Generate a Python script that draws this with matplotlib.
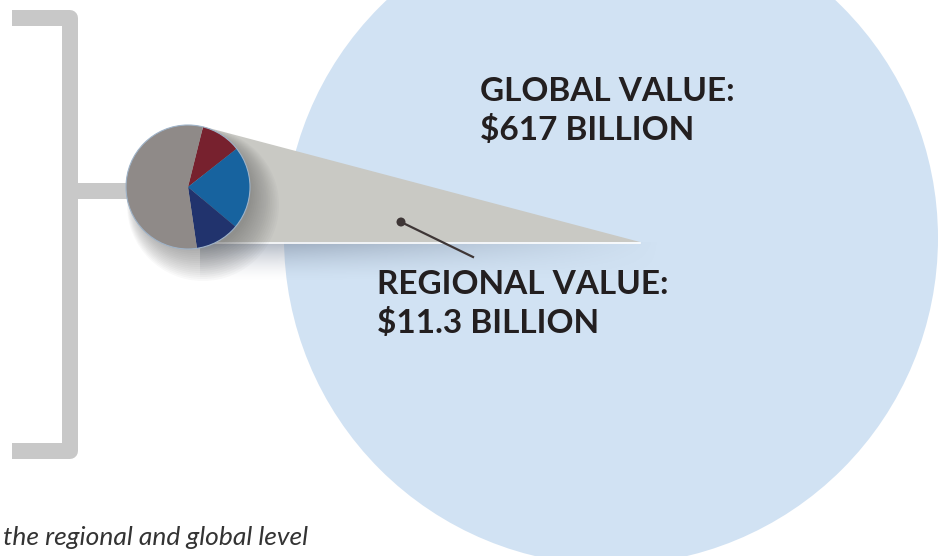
import numpy as np
import matplotlib
matplotlib.use("Agg")
import matplotlib.pyplot as plt
from matplotlib.patches import Circle, Polygon

# data
slice_names = ["Sector A", "Sector B", "Sector C", "Other"]
regional_shares = [10.5, 21.7, 11.6, 56.2]
slice_colors = ["#77212e", "#17639f", "#21336d", "#8f8a88"]
global_label = ["GLOBAL VALUE:", "$617 BILLION"]
regional_label = ["REGIONAL VALUE:", "$11.3 BILLION"]
caption = "the regional and global level"

W, H = 939, 556


def fy(y):
    return H - y


fig = plt.figure(figsize=(W / 100, H / 100), dpi=100)
ax = fig.add_axes([0, 0, 1, 1])

# big global circle
ax.add_patch(Circle((611, fy(238)), 327, facecolor="#d1e2f3", edgecolor="none", zorder=1))

# bracket
gray = "#c8c8c8"
ax.plot([12, 70, 70, 12], [fy(18), fy(18), fy(451), fy(451)], color=gray, lw=11.5,
        solid_joinstyle="round", solid_capstyle="butt", zorder=2)
ax.plot([70, 140], [fy(191), fy(191)], color=gray, lw=11.5, solid_capstyle="butt", zorder=2)

# shadow under the zoom cone
grad = np.zeros((40, 460, 4))
rows = np.linspace(1, 0, 40) ** 1.6
cols = np.clip(np.linspace(1.2, 0, 460), 0, 1)
grad[..., 0] = 0.45
grad[..., 1] = 0.5
grad[..., 2] = 0.58
grad[..., 3] = 0.55 * rows[:, None] * cols[None, :]
ax.imshow(grad, extent=(200, 660, fy(282), fy(242)), origin="upper", zorder=3,
          interpolation="bilinear")

# zoom cone
cone = Polygon([(205, fy(127)), (640, fy(242)), (200, fy(242))], closed=True,
               facecolor="#c9c9c4", edgecolor="none", zorder=4)
ax.add_patch(cone)
ax.plot([200, 640], [fy(242.5), fy(242.5)], color="white", lw=1.2, zorder=4)

# shadow of the pie (down and to the right)
for i in range(16):
    ax.add_patch(Circle((194 + i * 0.6, fy(193 + i * 0.8)), 58 + i * 1.2,
                        facecolor="#555555", alpha=0.035, edgecolor="none", zorder=5))

# regional pie
pie_center = (188, fy(187))
wedges, _ = ax.pie(regional_shares, colors=slice_colors, startangle=76,
                   counterclock=False, center=pie_center, radius=62, frame=True,
                   wedgeprops=dict(edgecolor="none"))
for w in wedges:
    w.set_zorder(6)
ax.add_patch(Circle(pie_center, 62, facecolor="none", edgecolor="#9fb3c8",
                    lw=0.8, zorder=7))

# pointer
ax.plot([401, 473], [fy(222), fy(257)], color="#3e3636", lw=1.6, zorder=8)
ax.add_patch(Circle((401, fy(222)), 4.5, facecolor="#3e3636", edgecolor="none", zorder=8))

# labels
font = dict(family=["Lato", "DejaVu Sans"], fontweight="bold", color="#231f20",
            fontsize=24)
ax.text(480, fy(101), global_label[0], va="baseline", ha="left", zorder=9, **font)
ax.text(480, fy(140), global_label[1], va="baseline", ha="left", zorder=9, **font)
ax.text(377, fy(294), regional_label[0], va="baseline", ha="left", zorder=9, **font)
ax.text(377, fy(333), regional_label[1], va="baseline", ha="left", zorder=9, **font)

ax.text(3, fy(545), caption, va="baseline", ha="left", fontsize=19, style="italic",
        color="#333333", family=["Lato", "DejaVu Sans"], zorder=9)

ax.set_xlim(0, W)
ax.set_ylim(0, H)
ax.set_aspect("equal")
ax.axis("off")

fig.savefig("out.png", dpi=100)
